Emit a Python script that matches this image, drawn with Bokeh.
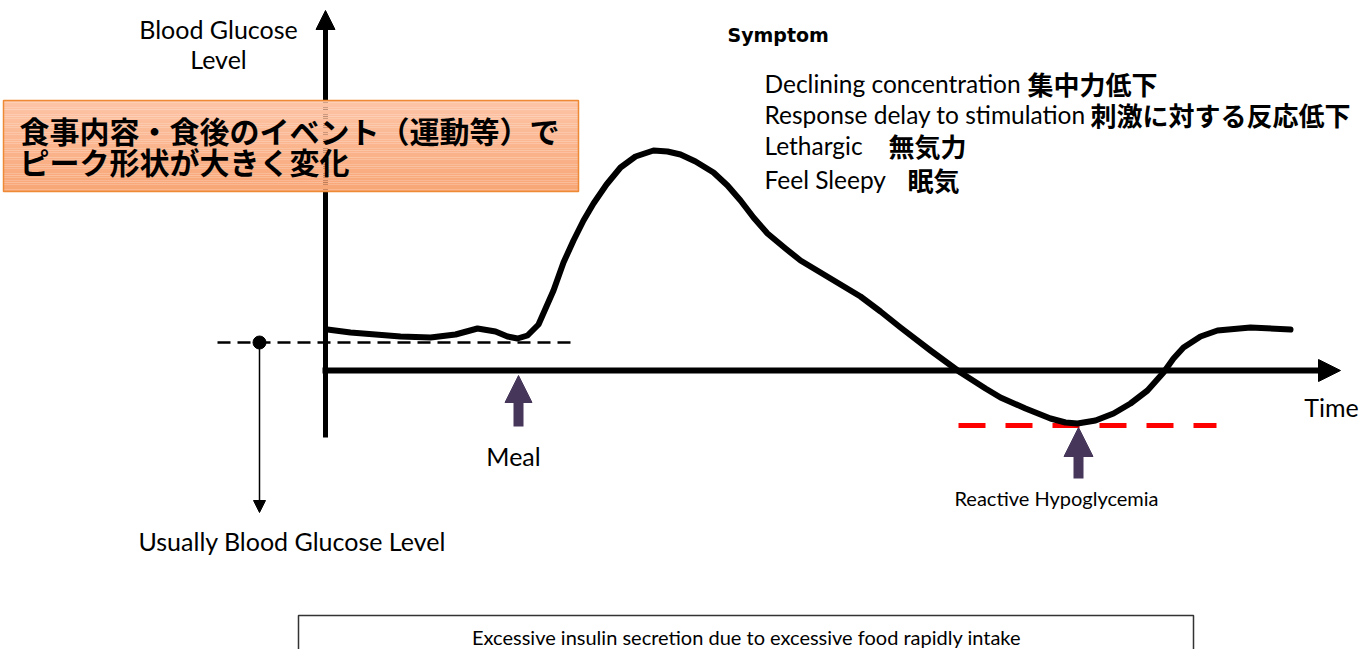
from bokeh.plotting import figure
from bokeh.models import Range1d, Arrow, NormalHead
from bokeh.core.properties import value
from bokeh.embed import file_html
from bokeh.resources import INLINE

# ---- data (schematic, origin at axis intersection) ----
time = [2, 25, 50, 75, 105, 130, 152, 170, 182, 192, 202, 213, 228, 238, 248, 258,
        268, 281, 295, 310, 328, 342, 355, 370, 388, 402, 415, 428, 442, 460, 475,
        505, 535, 555, 575, 605, 635, 660, 675, 700, 725, 740, 752, 770, 788, 805,
        822, 838, 848, 858, 875, 892, 925, 965]
glucose = [41, 38, 36, 34, 33, 36, 42, 39, 34, 32, 35, 46, 80, 108, 130, 150,
           167, 186, 203, 214, 220, 219, 216, 209, 198, 185, 170, 153, 137, 122, 110,
           92, 74, 59, 43, 20, -2, -18, -27, -38, -48, -52, -53, -50, -43, -33,
           -20, -2, 12, 23, 34, 40, 43, 41]
usual_level = 28
hypo_level = -55
meal_time = 193
hypo_time = 753

y_axis_label = ["Blood Glucose", "Level"]
box_text = ["食事内容・食後のイベント（運動等）で", "ピーク形状が大きく変化"]
symptom_title = "Symptom"
symptom_en = ["Declining concentration", "Response delay to stimulation", "Lethargic", "Feel Sleepy"]
symptom_jp = ["集中力低下", "刺激に対する反応低下", "無気力", "眠気"]
symptom_jp_x = [702, 765, 563, 582]
usual_label = "Usually Blood Glucose Level"
meal_label = "Meal"
time_label = "Time"
hypo_label = "Reactive Hypoglycemia"
footer = "Excessive insulin secretion due to excessive food rapidly intake"

FONT = value("Lato")
JP = value("Noto Sans CJK JP")
PURPLE = "#46375A"

p = figure(width=1362, height=649, output_backend="svg", toolbar_location=None,
           x_range=Range1d(-325, 1037), y_range=Range1d(-279, 370),
           min_border=0, outline_line_color=None,
           x_axis_location=None, y_axis_location=None)
p.grid.visible = False
p.background_fill_color = "white"

# axes (drawn underneath the glyphs so the orange box covers the y axis)
p.add_layout(Arrow(end=NormalHead(size=19, fill_color="black", line_color="black", line_width=1),
                   x_start=0, y_start=-67, x_end=0, y_end=360,
                   line_width=5, line_color="black", level="underlay"))
p.add_layout(Arrow(end=NormalHead(size=22, fill_color="black", line_color="black", line_width=1),
                   x_start=-3, y_start=0, x_end=1015, y_end=0,
                   line_width=6, line_color="black", level="underlay"))

# orange gradient box
top_c = (253, 196, 166)
bot_c = (248, 166, 118)
y_top, y_bot = 270, 179
n = 40
for i in range(n):
    f = i / (n - 1)
    c = tuple(int(round(top_c[k] + (bot_c[k] - top_c[k]) * f)) for k in range(3))
    y1 = y_top - (y_top - y_bot) * i / n
    y2 = y_top - (y_top - y_bot) * (i + 1) / n
    p.quad(left=-322, right=253, top=y1, bottom=y2, fill_color="#%02x%02x%02x" % c,
           line_color=None)
p.quad(left=-322, right=253, top=y_top, bottom=y_bot, fill_alpha=0,
       line_color="#EE8A35", line_width=1.5)
p.text(x=[-306, -306], y=[241, 210], text=box_text, text_font=JP, text_font_style="bold",
       text_font_size="30px", text_baseline="middle", text_align="left", text_color="black")

# usual level dashed line + marker
p.line(x=[-108, 250], y=[usual_level, usual_level], line_color="black", line_width=2.5,
       line_dash="13 7")
p.add_layout(Arrow(end=NormalHead(size=12, fill_color="black", line_color="black", line_width=1),
                   x_start=-66, y_start=usual_level, x_end=-66, y_end=-142,
                   line_width=1.5, line_color="black"))
p.scatter(x=[-66], y=[usual_level], size=13, fill_color="black", line_color="black")

# hypoglycemia dashed line
p.line(x=[633, 891], y=[hypo_level, hypo_level], line_color="#FF0000", line_width=5,
       line_dash="27 20")

# glucose curve
p.line(x=time, y=glucose, line_color="black", line_width=6, line_join="round", line_cap="round")

# event arrows
p.add_layout(Arrow(end=NormalHead(size=27, fill_color=PURPLE, line_color=PURPLE, line_width=1),
                   x_start=meal_time, y_start=-56, x_end=meal_time, y_end=-5,
                   line_width=10, line_color=PURPLE))
p.add_layout(Arrow(end=NormalHead(size=29, fill_color=PURPLE, line_color=PURPLE, line_width=1),
                   x_start=hypo_time, y_start=-108, x_end=hypo_time, y_end=-57,
                   line_width=10, line_color=PURPLE))

# labels
p.text(x=[-107, -107], y=[342, 312], text=y_axis_label, text_font=FONT, text_font_size="25px",
       text_align="center", text_baseline="middle", text_color="black")
p.text(x=[402], y=[336], text=[symptom_title], text_font=value("DejaVu Sans"),
       text_font_style="bold", text_font_size="19px", text_align="left",
       text_baseline="middle", text_color="black")
sym_y = [287, 256, 225, 191]
p.text(x=[439] * 4, y=sym_y, text=symptom_en, text_font=FONT, text_font_size="24.5px",
       text_align="left", text_baseline="middle", text_color="black")
p.text(x=symptom_jp_x, y=sym_y, text=symptom_jp, text_font=JP, text_font_style="bold",
       text_font_size="26px", text_align="left", text_baseline="middle", text_color="black")
p.text(x=[-187], y=[-170], text=[usual_label], text_font=FONT, text_font_size="25px",
       text_align="left", text_baseline="middle", text_color="black")
p.text(x=[meal_time - 5], y=[-85], text=[meal_label], text_font=FONT, text_font_size="25px",
       text_align="center", text_baseline="middle", text_color="black")
p.text(x=[1006], y=[-36], text=[time_label], text_font=FONT, text_font_size="25px",
       text_align="center", text_baseline="middle", text_color="black")
p.text(x=[731], y=[-127], text=[hypo_label], text_font=FONT, text_font_size="20px",
       text_align="center", text_baseline="middle", text_color="black")

# footer box
p.quad(left=-27, right=868, top=-245, bottom=-300, fill_color="white",
       line_color="#333333", line_width=1.5)
p.text(x=[421], y=[-266], text=[footer], text_font=FONT, text_font_size="20px",
       text_align="center", text_baseline="middle", text_color="black")

open("out.html", "w").write(file_html(p, INLINE))
